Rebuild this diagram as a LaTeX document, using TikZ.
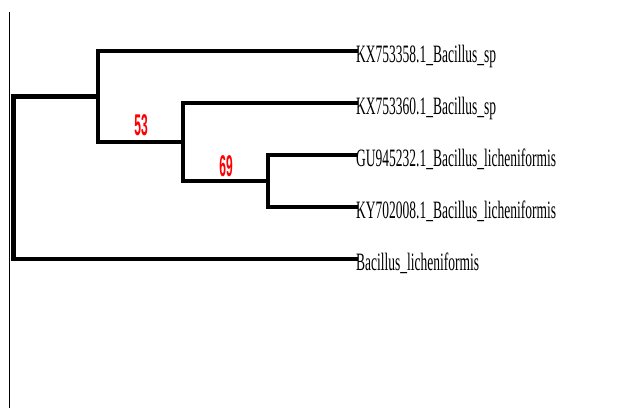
\documentclass[tikz,border=0pt]{standalone}
\usepackage{fontspec}
\setmainfont{Liberation Serif}
\newfontfamily\labfont{Liberation Sans}
\begin{document}
\begin{tikzpicture}[x=1pt,y=-1pt,
  branch/.style={line width=4.5pt, line cap=rect, line join=miter},
  leaf/.style={anchor=west, inner sep=0pt, text height=22pt, text depth=0pt,
    font=\fontsize{25}{25}\selectfont},
  boot/.style={inner sep=0pt, text=red, font=\labfont\bfseries\fontsize{30}{30}\selectfont}
]
\useasboundingbox (0,0) rectangle (642,408);
\fill[white] (0,0) rectangle (642,408);
% thin left rule
\coordinate (axT) at (9.5,12);
\coordinate (axB) at (9.5,408);
\draw[line width=1.2pt] (axT) -- (axB);
% leaves
\node[leaf] (L1) at (356,51)  {\scalebox{0.54}[1]{KX753358.1\_Bacillus\_sp}};
\node[leaf] (L2) at (356,103) {\scalebox{0.54}[1]{KX753360.1\_Bacillus\_sp}};
\node[leaf] (L3) at (356,155) {\scalebox{0.54}[1]{GU945232.1\_Bacillus\_licheniformis}};
\node[leaf] (L4) at (356,207) {\scalebox{0.54}[1]{KY702008.1\_Bacillus\_licheniformis}};
\node[leaf] (L5) at (356,259) {\scalebox{0.54}[1]{Bacillus\_licheniformis}};
% internal nodes
\coordinate (C) at (268,181);
\coordinate (B) at (183,142);
\coordinate (A) at (98,96.5);
\coordinate (R) at (13.5,177.75);
% branches
\draw[branch] (L3.west) -| (C) |- (L4.west);
\draw[branch] (L2.west) -| (B) |- (C);
\draw[branch] (L1.west) -| (A) |- (B);
\draw[branch] (A) -| (R) |- (L5.west);
% bootstrap labels
\node[boot] (b53) at (141,125) {\scalebox{0.4}[1]{53}};
\node[boot] (b69) at (226,166) {\scalebox{0.4}[1]{69}};
\end{tikzpicture}
\end{document}
